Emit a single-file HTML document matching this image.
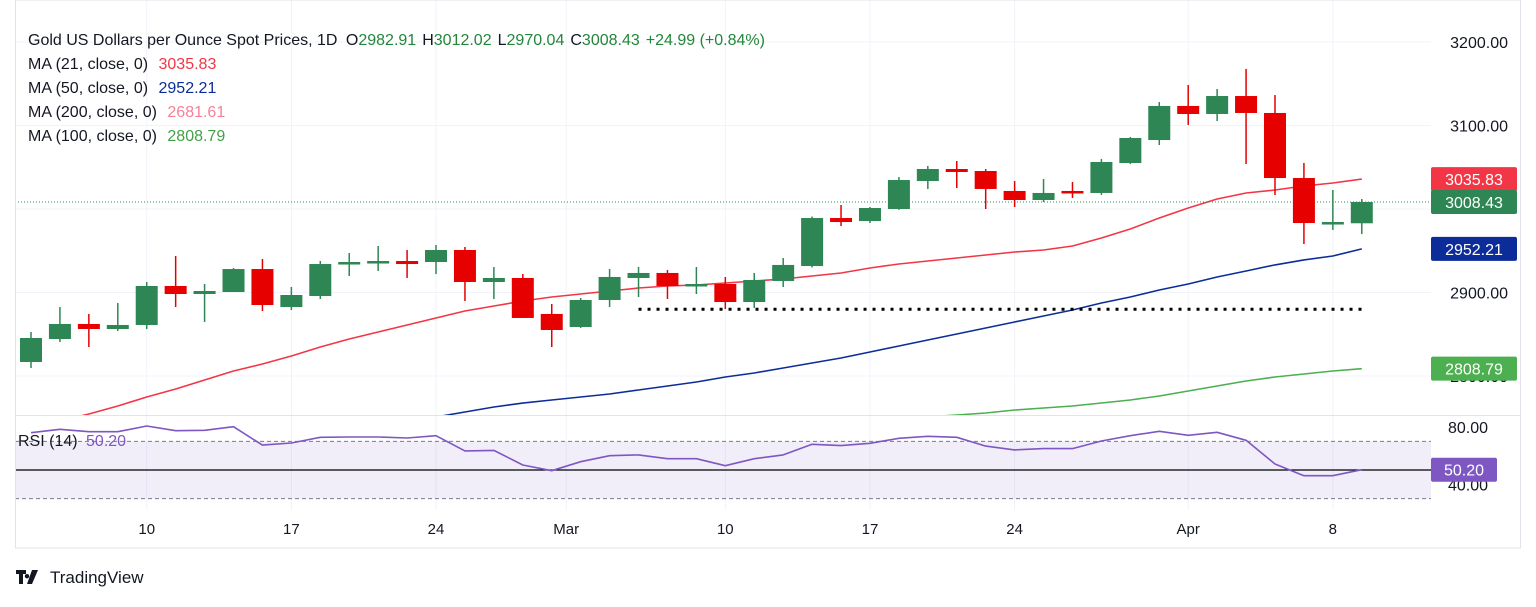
<!DOCTYPE html>
<html><head><meta charset="utf-8"><style>
html,body{margin:0;padding:0;background:#fff;}
svg text{font-family:"Liberation Sans","DejaVu Sans",sans-serif;}
</style></head><body>
<svg id="chart" width="1536" height="602" viewBox="0 0 1536 602" xmlns="http://www.w3.org/2000/svg">
<rect x="0" y="0" width="1536" height="602" fill="#fff"/>
<g id="grid"></g>
<g id="rsiBand"></g>
<g id="lines"></g>
<g id="candles"></g>
<g id="axes"></g>
<g id="legend">
<text x="28" y="45" font-size="16" fill="#131722">Gold US Dollars per Ounce Spot Prices, 1D <tspan dx="4">O</tspan><tspan fill="#22863a">2982.91</tspan><tspan dx="6">H</tspan><tspan fill="#22863a">3012.02</tspan><tspan dx="6">L</tspan><tspan fill="#22863a">2970.04</tspan><tspan dx="6">C</tspan><tspan fill="#22863a">3008.43</tspan><tspan dx="6" fill="#22863a">+24.99 (+0.84%)</tspan></text>
<text x="28" y="69" font-size="16" fill="#131722">MA (21, close, 0) <tspan dx="6" fill="#f23645">3035.83</tspan></text>
<text x="28" y="93" font-size="16" fill="#131722">MA (50, close, 0) <tspan dx="6" fill="#0c2d99">2952.21</tspan></text>
<text x="28" y="117" font-size="16" fill="#131722">MA (200, close, 0) <tspan dx="6" fill="#f7809a">2681.61</tspan></text>
<text x="28" y="141" font-size="16" fill="#131722">MA (100, close, 0) <tspan dx="6" fill="#43a047">2808.79</tspan></text>
<text x="18" y="446" font-size="16" fill="#131722">RSI (14) <tspan dx="4" fill="#7e57c2">50.20</tspan></text>
</g>
<g>
<path d="M16 570h10v4h-3v10h-4v-10h-3z M27 574a2.2 2.2 0 1 0 0.01 0z M32 570h6l-6 14h-5z" fill="#131722"/>
<text x="50" y="583" font-size="17" fill="#131722">TradingView</text>
</g>
</svg>
<script>
const opens=[2816.8,2844.3,2862.3,2856.3,2861.1,2907.8,2898.2,2900.6,2928.1,2882.6,2895.8,2934.1,2935.3,2937.7,2936.5,2950.9,2912.6,2917.4,2874.3,2858.7,2891,2917.4,2923.4,2909,2910.2,2888.6,2913.8,2931.7,2989.2,2985.6,3000,3033.5,3047.9,3045.5,3021.6,3010.8,3021.6,3019.2,3055.1,3082.6,3123.4,3113.8,3135.3,3115,3037.1,2983.2,2982.9];
const highs=[2852.7,2882.6,2874.3,2887.4,2912.6,2943.7,2910.2,2929.3,2940.1,2906.6,2937.7,2947.3,2955.7,2950.9,2956.9,2954.5,2930.5,2922.2,2886.2,2893.4,2928.1,2930.5,2927,2930.5,2918.6,2923.4,2941.3,2991,3004.8,3002.4,3038.3,3051.5,3057.5,3047.9,3033.5,3035.9,3032.3,3059.9,3086.2,3128.1,3148.5,3143.7,3167.7,3136.5,3055.1,3022.8,3012.0];
const lows=[2809.6,2840.7,2834.7,2853.9,2856.3,2882.6,2864.7,2900.6,2877.8,2879,2892.2,2919.8,2925.8,2917.4,2922.2,2889.8,2892.2,2873.1,2834.7,2857.5,2882.6,2894.6,2892.2,2898.2,2880.2,2881.4,2906.6,2930,2979.6,2983.2,2999,3024,3025.2,3000,3002.4,3008.4,3013.2,3016.8,3053.9,3076.6,3100.6,3105.4,3053.9,3016.8,2958.1,2974.9,2970.0];
const closes=[2845.5,2862.3,2856.3,2861.1,2907.8,2898.2,2901.8,2928.1,2885,2897,2934.1,2936.5,2937.7,2934.1,2950.9,2912.6,2917.4,2869.5,2855.1,2891,2918.6,2923.4,2907.8,2910.2,2888.6,2915,2933,2989.2,2984.4,3001.2,3034.7,3047.9,3044.3,3024,3010.8,3019.2,3019.2,3056.3,3085,3123.4,3113.8,3135.3,3115,3037.1,2983.2,2984.4,3008.4];
const ma21=[2736.5,2746.1,2754.5,2764.1,2774.9,2784.4,2795.2,2806.0,2814.4,2823.9,2834.7,2844.3,2852.7,2861.1,2869.5,2877.8,2883.8,2889.8,2894.6,2898.2,2901.8,2905.4,2907.8,2909.0,2911.4,2913.8,2916.2,2919.8,2923.4,2929.3,2934.1,2937.7,2941.3,2944.9,2948.5,2950.9,2955.7,2965.3,2976.0,2989.2,3001.2,3012.0,3019.2,3022.8,3027.5,3031.1,3035.8];
const ma50=[2676.1,2681.4,2686.8,2692.2,2697.6,2703.0,2708.4,2713.8,2719.2,2724.5,2729.9,2735.3,2740.7,2746.1,2750.9,2756.9,2762.9,2767.6,2771.3,2774.9,2778.4,2783.2,2788.0,2792.8,2798.8,2803.6,2809.6,2815.6,2821.6,2828.8,2835.9,2843.1,2850.3,2857.5,2864.7,2871.9,2879.0,2887.4,2894.6,2903.0,2910.2,2918.6,2925.8,2933.0,2939.0,2943.7,2952.2];
const ma100=[null,null,null,null,null,null,null,null,null,null,null,null,null,null,null,null,null,null,null,null,null,null,null,null,null,null,null,null,null,null,null,2751.0,2753.3,2755.7,2759.3,2761.7,2764.1,2767.7,2771.3,2776.0,2782.0,2788.0,2794.0,2798.8,2802.4,2806.0,2808.8];
const rsi=[76.0,78.4,76.7,76.7,80.7,77.4,77.7,80.2,67.4,68.8,72.8,73.0,73.0,72.3,73.9,63.3,63.7,53.5,49.5,55.8,60.0,60.5,57.9,57.9,53.0,57.9,60.5,67.9,67.0,68.6,72.1,73.5,72.8,66.7,64.0,64.9,64.9,70.2,73.9,77.0,74.2,76.3,70.7,54.2,46.0,46.0,50.2];
const priceTicks=[3200,3100,2900,2800];
const rsiTicks=[80,40];
const dateLabels=["10","17","24","Mar","10","17","24","Apr","8"];
const dateIdx=[4,9,14,18.5,24,29,34,40,45];
const supportLevel=2880;
const supportFrom=21;

const NS="http://www.w3.org/2000/svg";
const X0=31,DX=28.93,PL=15,PR=1431,MT=15,MB=415,RT=416,RB=510;
const xs=i=>X0+DX*i;
const yp=p=>42+(3200-p)*0.835;
const yr=v=>427+(80-v)*1.433;
function mk(tag,attrs,parent){const e=document.createElementNS(NS,tag);for(const k in attrs)e.setAttribute(k,attrs[k]);parent.appendChild(e);return e;}
const grid=document.getElementById('grid'),band=document.getElementById('rsiBand'),lines=document.getElementById('lines'),cg=document.getElementById('candles'),axes=document.getElementById('axes');
const svg=document.getElementById('chart');
const defs=mk('defs',{},svg);
const cp=mk('clipPath',{id:'mainclip'},defs);mk('rect',{x:PL,y:MT,width:PR-PL,height:MB-MT},cp);
const cp2=mk('clipPath',{id:'rsiclip'},defs);mk('rect',{x:PL,y:RT,width:PR-PL,height:RB-RT},cp2);
lines.setAttribute('clip-path','url(#mainclip)');

// frame
let fr=mk('rect',{x:15.5,y:0,width:1505,height:548,fill:'none',stroke:'#e0e3eb'},axes);


let sep=mk('line',{x1:PL,x2:1520,y1:415.5,y2:415.5,stroke:'#e0e3eb'},axes);



// grid
dateIdx.forEach((d,k)=>{
  const l=mk('line',{x1:xs(d),x2:xs(d),y1:0,y2:510,stroke:'#f0f3fa'},grid);
  
  
  const t=mk('text',{x:xs(d),y:534,'font-size':15,fill:'#131722','text-anchor':'middle'},axes);
  t.textContent=dateLabels[k];
  
  
});
priceTicks.concat([3000]).forEach(p=>{
  const l=mk('line',{x1:PL,x2:PR,y1:yp(p),y2:yp(p),stroke:'#f0f3fa'},grid);
  
  
});
priceTicks.forEach(p=>{
  const t=mk('text',{x:1508,y:yp(p)+6,'font-size':16,fill:'#131722','text-anchor':'end'},axes);
  t.textContent=p.toFixed(2);
  
  
});
// RSI band
let br=mk('rect',{x:PL,y:yr(70),width:PR-PL,height:yr(30)-yr(70),fill:'#7e57c2','fill-opacity':0.1},band);


[70,30].forEach(v=>{
  const l=mk('line',{x1:PL,x2:PR,y1:yr(v),y2:yr(v),stroke:'#787b86','stroke-dasharray':'4 3'},band);
  
  
});
let ml=mk('line',{x1:PL,x2:PR,y1:yr(50),y2:yr(50),stroke:'#000','stroke-width':1.3},band);


rsiTicks.forEach(v=>{
  const t=mk('text',{x:1488,y:yr(v)+6,'font-size':16,fill:'#131722','text-anchor':'end'},axes);
  t.textContent=v.toFixed(2);
  
  
});

// MA lines
function poly(arr,color,name,yf,parent,w){
  const pts=[];arr.forEach((v,i)=>{if(v!==null)pts.push(xs(i).toFixed(1)+','+yf(v).toFixed(1));});
  const p=mk('polyline',{points:pts.join(' '),fill:'none',stroke:color,'stroke-width':w||1.6,'stroke-linejoin':'round'},parent);
  
  
  return p;
}
poly(ma21,'#f23645','ma21-line',yp,lines);
poly(ma50,'#0c2d99','ma50-line',yp,lines);
poly(ma100,'#4caf50','ma100-line',yp,lines);
const rl=poly(rsi,'#7e57c2','rsi-line',yr,band,1.6);
rl.setAttribute('clip-path','url(#rsiclip)');

// support dotted line
let sl=mk('line',{x1:xs(supportFrom),x2:xs(opens.length-1),y1:yp(supportLevel),y2:yp(supportLevel),stroke:'#000','stroke-width':3,'stroke-dasharray':'3 6'},lines);


// last price dotted
let lp=mk('line',{x1:PL,x2:PR,y1:yp(closes[closes.length-1]),y2:yp(closes[closes.length-1]),stroke:'#2e8b57','stroke-dasharray':'1 2'},lines);



// candles
opens.forEach((o,i)=>{
  const c=closes[i],up=c>=o,col=up?'#2d8653':'#e60000';
  const g=mk('g',{},cg);
  
  
  mk('line',{x1:xs(i),x2:xs(i),y1:yp(highs[i]),y2:yp(lows[i]),stroke:col,'stroke-width':1.5},g);
  const top=yp(Math.max(o,c)),h=Math.max(2.5,Math.abs(yp(o)-yp(c)));
  mk('rect',{x:xs(i)-11,y:top,width:22,height:h,fill:col},g);
});

// price labels
function tag(v,color,name,yf,w,txt){
  const y=yf(v);
  const g=mk('g',{},axes);
  
  
  mk('rect',{x:1431,y:y-12,width:w,height:24,rx:2,fill:color},g);
  const t=mk('text',{x:1431+w/2,y:y+6,'font-size':16,fill:'#fff','text-anchor':'middle'},g);
  t.textContent=txt;
}
tag(3035.83,'#f23645','ma21-price-tag',yp,86,'3035.83');
tag(closes[closes.length-1],'#2d8653','last-price-tag',yp,86,'3008.43');
tag(2952.21,'#0c2d99','ma50-price-tag',yp,86,'2952.21');
tag(2808.79,'#4caf50','ma100-price-tag',yp,86,'2808.79');
tag(rsi[rsi.length-1],'#7e57c2','rsi-value-tag',yr,66,'50.20');
</script>
</body></html>
